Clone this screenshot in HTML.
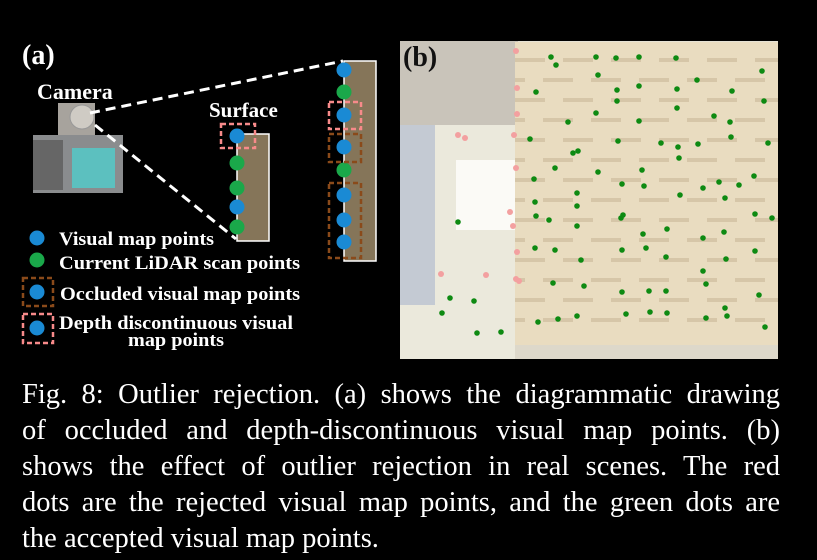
<!DOCTYPE html>
<html><head><meta charset="utf-8"><style>
body{margin:0;background:#000;width:817px;height:560px;overflow:hidden;position:relative;font-family:"Liberation Serif",serif;}
.cap{position:absolute;left:22px;top:377px;width:758px;color:#fff;font-size:28.5px;line-height:36px;}
.cap div{text-align:justify;text-align-last:justify;white-space:nowrap;}
.cap div.l{text-align-last:left}
</style></head><body>
<svg width="817" height="370" style="position:absolute;left:0;top:0" font-family="Liberation Serif, serif" font-weight="bold" fill="#fff">
<text x="22" y="64" font-size="28">(a)</text>
<text x="37" y="99" font-size="22">Camera</text>
<text x="209" y="117" font-size="21">Surface</text>
<rect x="58" y="103" width="37" height="34" fill="#b9b5ae" opacity="0.9"/>
<circle cx="82" cy="117" r="12" fill="#cfcbc4" stroke="#999"/>
<rect x="33" y="135" width="90" height="58" fill="#8a8c8e"/>
<rect x="33" y="140" width="30" height="50" fill="#666"/>
<rect x="72" y="148" width="43" height="40" fill="#5cc0bf"/>
<g stroke="#fff" stroke-width="3" stroke-dasharray="10,6" fill="none">
<line x1="90" y1="113" x2="343" y2="61"/>
<line x1="95" y1="125" x2="236" y2="239"/>
</g>
<rect x="237" y="134" width="32" height="107" fill="#857559" stroke="#fff" stroke-width="1.5"/>
<rect x="344" y="61" width="32" height="200" fill="#857559" stroke="#fff" stroke-width="1.5"/>
<g>
<circle cx="237" cy="136" r="7.5" fill="#1a8ad4"/>
<circle cx="237" cy="163" r="7.5" fill="#1aa84a"/>
<circle cx="237" cy="188" r="7.5" fill="#1aa84a"/>
<circle cx="237" cy="207" r="7.5" fill="#1a8ad4"/>
<circle cx="237" cy="227" r="7.5" fill="#1aa84a"/>
<circle cx="344" cy="70" r="7.5" fill="#1a8ad4"/>
<circle cx="344" cy="92" r="7.5" fill="#1aa84a"/>
<circle cx="344" cy="115" r="7.5" fill="#1a8ad4"/>
<circle cx="344" cy="147" r="7.5" fill="#1a8ad4"/>
<circle cx="344" cy="170" r="7.5" fill="#1aa84a"/>
<circle cx="344" cy="195" r="7.5" fill="#1a8ad4"/>
<circle cx="344" cy="220" r="7.5" fill="#1a8ad4"/>
<circle cx="344" cy="242" r="7.5" fill="#1a8ad4"/>
</g>
<g fill="none" stroke-width="2.5" stroke-dasharray="5,3">
<rect x="221" y="124" width="34" height="24" stroke="#f78a8a"/>
<rect x="329" y="102" width="32" height="27" stroke="#f78a8a"/>
<rect x="329" y="134" width="32" height="28" stroke="#8a4a1a"/>
<rect x="329" y="183" width="32" height="75" stroke="#8a4a1a"/>
<rect x="23" y="278" width="30" height="28" stroke="#8a4a1a"/>
<rect x="23" y="314" width="30" height="29" stroke="#f78a8a"/>
</g>
<circle cx="37" cy="238" r="7.5" fill="#1a8ad4"/>
<circle cx="37" cy="260" r="7.5" fill="#1aa84a"/>
<circle cx="37" cy="292" r="7.5" fill="#1a8ad4"/>
<circle cx="37" cy="328" r="7.5" fill="#1a8ad4"/>
<g font-size="18.5">
<text x="59" y="245" textLength="155" lengthAdjust="spacingAndGlyphs">Visual map points</text>
<text x="59" y="269" textLength="241" lengthAdjust="spacingAndGlyphs">Current LiDAR scan points</text>
<text x="60" y="300" textLength="240" lengthAdjust="spacingAndGlyphs">Occluded visual map points</text>
<text x="59" y="329" textLength="234" lengthAdjust="spacingAndGlyphs">Depth discontinuous visual</text>
<text x="128" y="346" textLength="96" lengthAdjust="spacingAndGlyphs">map points</text>
</g>
<rect x="400" y="41" width="378" height="318" fill="#e6e2d4"/>
<rect x="400" y="41" width="118" height="90" fill="#c9c4ba"/>
<rect x="400" y="125" width="118" height="234" fill="#ebe9dc"/>
<rect x="400" y="125" width="35" height="180" fill="#c4cad3"/>
<rect x="456" y="160" width="62" height="70" fill="#fbfaf6"/>
<rect x="515" y="42" width="263" height="317" fill="#e9dcc0"/>
<g stroke="#d6c6a8" stroke-width="4" stroke-dasharray="30,18">
<line x1="515" y1="60" x2="778" y2="60"/><line x1="515" y1="80" x2="778" y2="80" stroke-dashoffset="20"/><line x1="515" y1="100" x2="778" y2="100"/><line x1="515" y1="120" x2="778" y2="120" stroke-dashoffset="20"/><line x1="515" y1="140" x2="778" y2="140"/><line x1="515" y1="160" x2="778" y2="160" stroke-dashoffset="20"/><line x1="515" y1="180" x2="778" y2="180"/><line x1="515" y1="200" x2="778" y2="200" stroke-dashoffset="20"/><line x1="515" y1="220" x2="778" y2="220"/><line x1="515" y1="240" x2="778" y2="240" stroke-dashoffset="20"/><line x1="515" y1="260" x2="778" y2="260"/><line x1="515" y1="280" x2="778" y2="280" stroke-dashoffset="20"/><line x1="515" y1="300" x2="778" y2="300"/><line x1="515" y1="320" x2="778" y2="320" stroke-dashoffset="20"/>
</g>
<rect x="515" y="345" width="263" height="14" fill="#ddd8ca"/>
<g fill="#f3a0a0">
<circle cx="516" cy="51" r="3"/><circle cx="517" cy="88" r="3"/><circle cx="517" cy="114" r="3"/><circle cx="514" cy="135" r="3"/><circle cx="458" cy="135" r="3"/><circle cx="465" cy="138" r="3"/><circle cx="516" cy="168" r="3"/><circle cx="510" cy="212" r="3"/><circle cx="513" cy="226" r="3"/><circle cx="517" cy="252" r="3"/><circle cx="441" cy="274" r="3"/><circle cx="486" cy="275" r="3"/><circle cx="516" cy="279" r="3"/><circle cx="519" cy="281" r="3"/>
</g>
<g fill="#0e8a12">
<circle cx="551" cy="57" r="2.8"/><circle cx="596" cy="57" r="2.8"/><circle cx="616" cy="58" r="2.8"/><circle cx="639" cy="57" r="2.8"/><circle cx="676" cy="58" r="2.8"/><circle cx="556" cy="65" r="2.8"/><circle cx="762" cy="71" r="2.8"/><circle cx="598" cy="75" r="2.8"/><circle cx="697" cy="80" r="2.8"/><circle cx="536" cy="92" r="2.8"/><circle cx="617" cy="90" r="2.8"/><circle cx="639" cy="86" r="2.8"/><circle cx="677" cy="89" r="2.8"/><circle cx="732" cy="91" r="2.8"/><circle cx="764" cy="101" r="2.8"/><circle cx="617" cy="101" r="2.8"/><circle cx="677" cy="108" r="2.8"/><circle cx="596" cy="113" r="2.8"/><circle cx="714" cy="116" r="2.8"/><circle cx="568" cy="122" r="2.8"/><circle cx="639" cy="121" r="2.8"/><circle cx="730" cy="122" r="2.8"/><circle cx="530" cy="139" r="2.8"/><circle cx="618" cy="141" r="2.8"/><circle cx="661" cy="143" r="2.8"/><circle cx="678" cy="147" r="2.8"/><circle cx="698" cy="144" r="2.8"/><circle cx="731" cy="137" r="2.8"/><circle cx="768" cy="143" r="2.8"/><circle cx="573" cy="153" r="2.8"/><circle cx="578" cy="151" r="2.8"/><circle cx="679" cy="158" r="2.8"/><circle cx="555" cy="168" r="2.8"/><circle cx="598" cy="172" r="2.8"/><circle cx="642" cy="170" r="2.8"/><circle cx="534" cy="179" r="2.8"/><circle cx="622" cy="184" r="2.8"/><circle cx="644" cy="186" r="2.8"/><circle cx="719" cy="182" r="2.8"/><circle cx="739" cy="185" r="2.8"/><circle cx="754" cy="176" r="2.8"/><circle cx="703" cy="188" r="2.8"/><circle cx="577" cy="193" r="2.8"/><circle cx="680" cy="195" r="2.8"/><circle cx="725" cy="198" r="2.8"/><circle cx="535" cy="202" r="2.8"/><circle cx="577" cy="206" r="2.8"/><circle cx="536" cy="216" r="2.8"/><circle cx="549" cy="220" r="2.8"/><circle cx="621" cy="218" r="2.8"/><circle cx="623" cy="215" r="2.8"/><circle cx="755" cy="214" r="2.8"/><circle cx="772" cy="218" r="2.8"/><circle cx="458" cy="222" r="2.8"/><circle cx="577" cy="226" r="2.8"/><circle cx="667" cy="229" r="2.8"/><circle cx="643" cy="234" r="2.8"/><circle cx="724" cy="232" r="2.8"/><circle cx="703" cy="238" r="2.8"/><circle cx="535" cy="248" r="2.8"/><circle cx="555" cy="250" r="2.8"/><circle cx="622" cy="250" r="2.8"/><circle cx="646" cy="248" r="2.8"/><circle cx="755" cy="251" r="2.8"/><circle cx="666" cy="257" r="2.8"/><circle cx="581" cy="260" r="2.8"/><circle cx="726" cy="259" r="2.8"/><circle cx="703" cy="271" r="2.8"/><circle cx="706" cy="284" r="2.8"/><circle cx="553" cy="283" r="2.8"/><circle cx="584" cy="286" r="2.8"/><circle cx="622" cy="292" r="2.8"/><circle cx="649" cy="291" r="2.8"/><circle cx="666" cy="291" r="2.8"/><circle cx="759" cy="295" r="2.8"/><circle cx="450" cy="298" r="2.8"/><circle cx="474" cy="301" r="2.8"/><circle cx="442" cy="313" r="2.8"/><circle cx="725" cy="308" r="2.8"/><circle cx="650" cy="312" r="2.8"/><circle cx="667" cy="313" r="2.8"/><circle cx="626" cy="314" r="2.8"/><circle cx="577" cy="316" r="2.8"/><circle cx="727" cy="316" r="2.8"/><circle cx="706" cy="318" r="2.8"/><circle cx="558" cy="319" r="2.8"/><circle cx="538" cy="322" r="2.8"/><circle cx="765" cy="327" r="2.8"/><circle cx="477" cy="333" r="2.8"/><circle cx="501" cy="332" r="2.8"/>
</g>
<text x="403" y="66" font-size="28" fill="#111">(b)</text>
</svg>
<div class="cap">
<div>Fig. 8: Outlier rejection. (a) shows the diagrammatic drawing</div>
<div>of occluded and depth-discontinuous visual map points. (b)</div>
<div>shows the effect of outlier rejection in real scenes. The red</div>
<div>dots are the rejected visual map points, and the green dots are</div>
<div class="l">the accepted visual map points.</div>
</div>
</body></html>
